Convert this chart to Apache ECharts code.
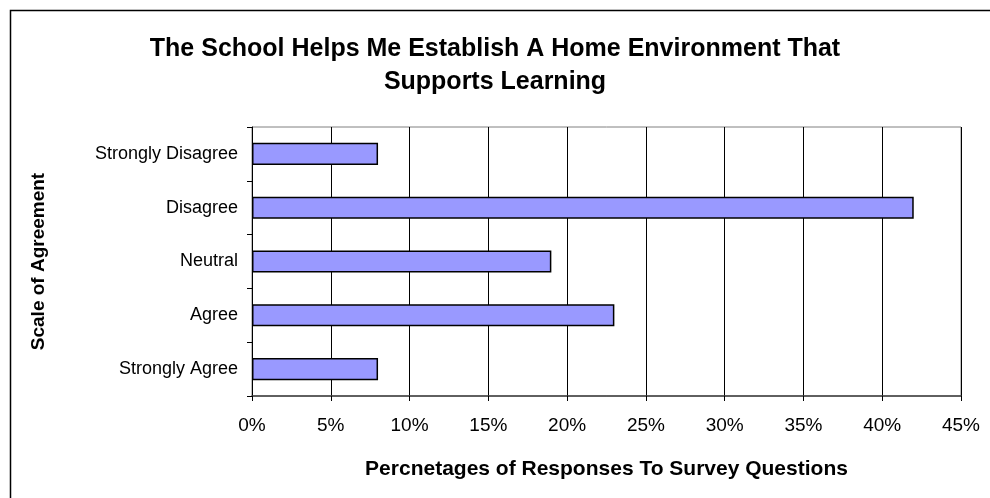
<!DOCTYPE html>
<html>
<head>
<meta charset="utf-8">
<script src="https://cdn.jsdelivr.net/npm/echarts@6/dist/echarts.min.js"></script>
<style>
html,body{margin:0;padding:0;background:#fff;}
#chart{width:990px;height:498px;}
</style>
</head>
<body>
<div id="chart"></div>
<script>
const categories = ["Strongly Disagree", "Disagree", "Neutral", "Agree", "Strongly Agree"];
const percentages = [8, 42, 19, 23, 8];
const xTicks = { min: 0, max: 45, interval: 5 };
const titleText = "The School Helps Me Establish A Home Environment That\nSupports Learning";
const xAxisName = "Percnetages of Responses To Survey Questions";
const yAxisName = "Scale of Agreement";

const chart = echarts.init(document.getElementById('chart'), null, { renderer: 'canvas' });
const FONT = '"Liberation Sans", Arial, sans-serif';
chart.setOption({
  animation: false,
  backgroundColor: '#fff',
  textStyle: { fontFamily: FONT },
  graphic: [{
    type: 'rect',
    shape: { x: 10.5, y: 10.5, width: 1000, height: 1000 },
    style: { fill: 'none', stroke: '#000', lineWidth: 1.5 },
    silent: true
  }],
  title: {
    text: titleText,
    left: 'center',
    top: 28,
    textStyle: { fontFamily: FONT, fontSize: 25, fontWeight: 'bold', color: '#000', lineHeight: 33 }
  },
  grid: {
    left: 252, top: 127, right: 29, bottom: 102,
    show: true, borderColor: '#808080', borderWidth: 1, backgroundColor: 'transparent'
  },
  xAxis: {
    type: 'value',
    min: xTicks.min, max: xTicks.max, interval: xTicks.interval,
    name: xAxisName,
    nameLocation: 'middle',
    nameGap: 63,
    nameTextStyle: { fontFamily: FONT, fontSize: 21, fontWeight: 'bold', color: '#000' },
    axisLine: { show: true, lineStyle: { color: '#404040', width: 1.5 } },
    axisTick: { show: true, length: 5, lineStyle: { color: '#000' } },
    axisLabel: { formatter: '{value}%', fontFamily: FONT, fontSize: 19, color: '#000', margin: 20 },
    splitLine: { show: true, lineStyle: { color: '#000', width: 1 } }
  },
  yAxis: {
    type: 'category',
    data: categories,
    inverse: true,
    name: yAxisName,
    nameLocation: 'middle',
    nameGap: 204,
    nameRotate: 90,
    nameTextStyle: { fontFamily: FONT, fontSize: 19, fontWeight: 'bold', color: '#000' },
    axisLine: { show: true, lineStyle: { color: '#000', width: 1 } },
    axisTick: { show: true, length: 5, lineStyle: { color: '#000' } },
    axisLabel: { fontFamily: FONT, fontSize: 18, color: '#000', margin: 14 }
  },
  series: [{
    type: 'bar',
    data: percentages,
    barCategoryGap: '59%',
    itemStyle: { color: '#9999FF', borderColor: '#000', borderWidth: 1.5 }
  }]
});
</script>
</body>
</html>
